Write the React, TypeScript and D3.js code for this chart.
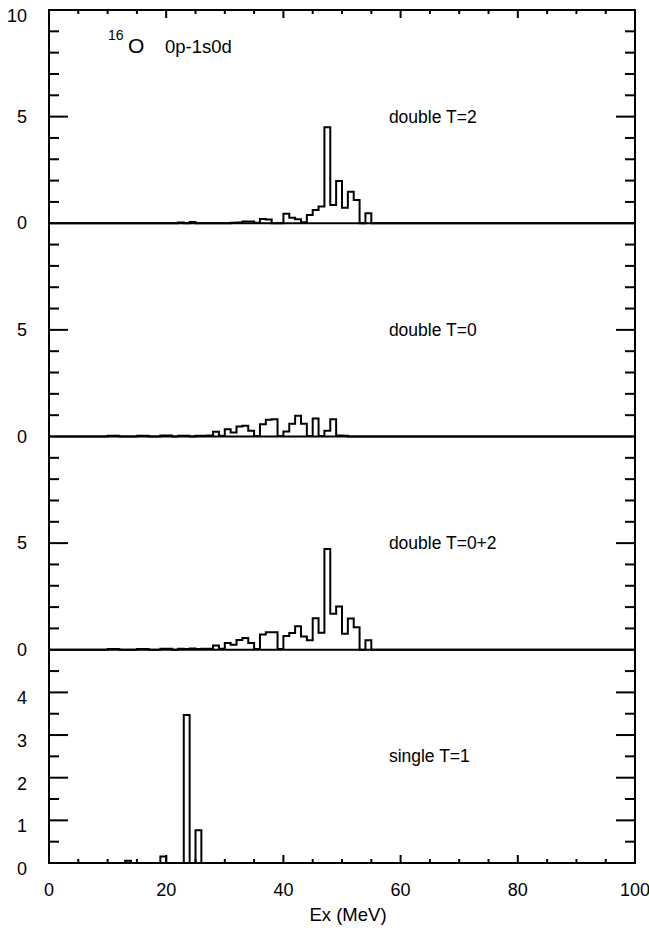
import React from "react";
import * as d3 from "d3";

// strength histograms, 1 MeV bins: [bin start (MeV), value]
const doubleT2 = [
  [22, 0.04], [24, 0.06], [31, 0.02], [32, 0.04], [33, 0.08], [34, 0.08], [35, 0.02],
  [36, 0.2], [37, 0.18], [40, 0.44], [41, 0.26], [42, 0.19], [43, 0.05], [44, 0.39],
  [45, 0.62], [46, 0.78], [47, 4.5], [48, 0.86], [49, 1.98], [50, 0.73], [51, 1.48],
  [52, 1.09], [54, 0.47],
];
const doubleT0 = [
  [10, 0.03], [11, 0.03], [15, 0.04], [16, 0.04], [19, 0.05], [20, 0.05], [22, 0.04],
  [23, 0.04], [25, 0.03], [26, 0.04], [27, 0.05], [28, 0.22], [29, 0.04], [30, 0.34],
  [31, 0.19], [32, 0.47], [33, 0.5], [34, 0.27], [35, 0.02], [36, 0.58], [37, 0.78],
  [38, 0.81], [39, 0.02], [40, 0.23], [41, 0.6], [42, 0.97], [43, 0.6], [44, 0.02],
  [45, 0.84], [46, 0.02], [47, 0.27], [48, 0.81], [49, 0.05], [50, 0.03],
];
const doubleT02 = [
  [10, 0.03], [11, 0.03], [15, 0.04], [16, 0.04], [19, 0.05], [20, 0.05], [22, 0.05],
  [23, 0.04], [24, 0.06], [25, 0.03], [26, 0.05], [27, 0.05], [28, 0.2], [29, 0.05],
  [30, 0.32], [31, 0.23], [32, 0.46], [33, 0.55], [34, 0.32], [35, 0.04], [36, 0.72],
  [37, 0.82], [38, 0.82], [39, 0.03], [40, 0.65], [41, 0.78], [42, 1.1], [43, 0.62],
  [44, 0.45], [45, 1.48], [46, 0.8], [47, 4.73], [48, 1.69], [49, 2.03], [50, 0.75],
  [51, 1.46], [52, 1.06], [54, 0.45],
];
const singleT1 = [[13, 0.05], [19, 0.15], [23, 3.47], [25, 0.77]];

const panelLabels = ["double T=2", "double T=0", "double T=0+2", "single T=1"];
const panelMax = [10, 10, 10, 5];
const panelTickLabels = [[0, 5, 10], [0, 5], [0, 5], [0, 1, 2, 3, 4]];
const xTickLabels = [0, 20, 40, 60, 80, 100];

const W = 649;
const H = 935;
const left = 49, right = 635, top = 10, bottom = 863;
const font = "'Liberation Sans', Arial, Helvetica, sans-serif";

const x = d3.scaleLinear().domain([0, 100]).range([left, right]);
const panelH = (bottom - top) / 4;

function stepPath(bins: number[][], y: d3.ScaleLinear<number, number>) {
  const m = new Map(bins.map((b) => [b[0], b[1]]));
  const pts: [number, number][] = d3.range(0, 100).map((e) => [e, m.get(e) ?? 0]);
  pts.push([100, 0]);
  const line = d3
    .line<[number, number]>()
    .x((d) => x(d[0]))
    .y((d) => y(d[1]))
    .curve(d3.curveStepAfter);
  return line(pts) || "";
}

const series = [doubleT2, doubleT0, doubleT02, singleT1];

export default function App() {
  const xMinor = d3.range(0, 101, 5);
  return (
    <svg
      width={W}
      height={H}
      style={{ position: "absolute", left: 0, top: 0, background: "#fff" }}
      fontFamily={font}
    >
      <rect x={0} y={0} width={W} height={H} fill="#fff" />
      {series.map((bins, i) => {
        const y0 = top + panelH * (i + 1);
        const y = d3.scaleLinear().domain([0, panelMax[i]]).range([y0, y0 - panelH]);
        const step = panelMax[i] === 5 ? 0.5 : 1;
        const ticks = d3.range(step, panelMax[i] - 1e-9, step);
        const isMajor = (v: number) => (panelMax[i] === 5 ? Number.isInteger(v) : v === 5);
        const labelShift = i === 3 ? 12 : 6;
        return (
          <g key={i}>
            {ticks.map((v) => {
              const len = isMajor(v) ? 19 : 10;
              return (
                <g key={v} stroke="#000" strokeWidth={2}>
                  <line x1={left} x2={left + len} y1={y(v)} y2={y(v)} />
                  <line x1={right} x2={right - len} y1={y(v)} y2={y(v)} />
                </g>
              );
            })}
            {panelTickLabels[i].map((v) => (
              <text
                key={v}
                x={27}
                y={(i === 0 && v === 10 ? y(v) + 12 : y(v) + labelShift)}
                textAnchor="end"
                fontSize={18}
              >
                {v}
              </text>
            ))}
            <path d={stepPath(bins, y)} fill="none" stroke="#000" strokeWidth={2} strokeLinejoin="miter" />
            <line x1={left} x2={right} y1={y0} y2={y0} stroke="#000" strokeWidth={2} />
            <text x={x(58)} y={y(panelMax[i] / 2) + 6} fontSize={17.5}>
              {panelLabels[i]}
            </text>
          </g>
        );
      })}
      {xMinor.map((v) => {
        const len = v % 20 === 0 ? 8 : 4;
        return (
          <g key={v} stroke="#000" strokeWidth={2}>
            <line x1={x(v)} x2={x(v)} y1={bottom} y2={bottom - len} />
            <line x1={x(v)} x2={x(v)} y1={top} y2={top + len} />
          </g>
        );
      })}
      {xTickLabels.map((v) => (
        <text key={v} x={x(v)} y={896} textAnchor="middle" fontSize={18}>
          {v}
        </text>
      ))}
      <text x={348} y={921} textAnchor="middle" fontSize={18.5}>
        Ex (MeV)
      </text>
      <text x={108} y={40} fontSize={14}>16</text>
      <text x={128} y={53} fontSize={21}>O</text>
      <text x={165} y={53} fontSize={18.5}>0p-1s0d</text>
      <rect x={left} y={top} width={right - left} height={bottom - top} fill="none" stroke="#000" strokeWidth={2} />
    </svg>
  );
}
